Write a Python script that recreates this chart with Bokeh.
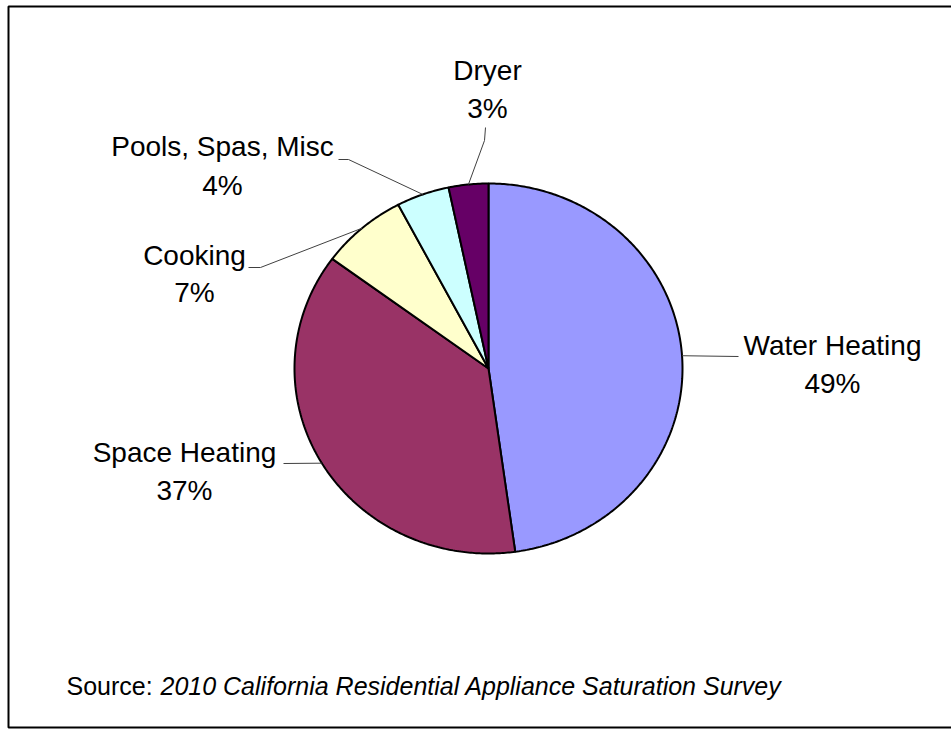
import numpy as np
from bokeh.plotting import figure
from bokeh.models import Range1d
from bokeh.core.properties import value
from bokeh.embed import file_html
from bokeh.resources import INLINE

# ---- data ----
categories = ["Water Heating", "Space Heating", "Cooking", "Pools, Spas, Misc", "Dryer"]
shares = [47.8, 37.3, 7.2, 4.4, 3.3]          # slice sizes as drawn
pct_labels = ["49%", "37%", "7%", "4%", "3%"]  # percentages as printed
colors = ["#9999FF", "#993366", "#FFFFCC", "#CCFFFF", "#660066"]
source_prefix = "Source:"
source_title = "2010 California Residential Appliance Saturation Survey"

# ---- layout (page pixels) ----
W, H = 951, 729
OX, OY = 0, 0                 # figure origin on page
CX, CY = 488, 368             # pie centre on page
RX, RY = 194, 185             # pie radii (slightly elliptical)

def dx(px):
    return px - CX

def dy(py):
    return CY - py

# label placement: (centre x, name baseline, pct baseline) in page pixels
label_pos = [(832, 345, 383), (184, 452, 490), (194, 255, 292), (222, 146, 185), (487, 70, 108)]
# leader line bends/ends near each label (page pixels)
leader_pts = [[(738, 356)], [(283, 463)], [(260, 267), (248, 267)],
              [(348, 159), (338, 159)], [(484, 140), (485, 127)]]
# outer frame (left, top, bottom) in page pixels
frame_l, frame_t, frame_b = 8, 6, 727

p = figure(width=W, height=H, output_backend="svg", toolbar_location=None,
           x_range=Range1d(dx(OX), dx(OX + W)), y_range=Range1d(dy(OY + H), dy(OY)),
           min_border=0)
p.axis.visible = False
p.grid.visible = False
p.outline_line_color = None
p.background_fill_color = "white"
p.border_fill_color = "white"

# frame
p.line([dx(W + 5), dx(frame_l), dx(frame_l), dx(W + 5)],
       [dy(frame_t), dy(frame_t), dy(frame_b), dy(frame_b)],
       line_color="black", line_width=2)

total = float(sum(shares))
fracs = np.cumsum([0.0] + shares) / total
xs, ys, mids = [], [], []
for i in range(len(shares)):
    a0, a1 = fracs[i] * 2 * np.pi, fracs[i + 1] * 2 * np.pi
    t = np.linspace(a0, a1, max(int((a1 - a0) / 0.01), 4))
    xs.append([0.0] + list(RX * np.sin(t)) + [0.0])
    ys.append([0.0] + list(RY * np.cos(t)) + [0.0])
    mids.append((a0 + a1) / 2)

p.patches(xs, ys, fill_color=colors, line_color="black", line_width=2)

# leader lines
lx, ly = [], []
for m, pts in zip(mids, leader_pts):
    lx.append([RX * np.sin(m)] + [dx(a) for a, b in pts])
    ly.append([RY * np.cos(m)] + [dy(b) for a, b in pts])
p.multi_line(lx, ly, line_color="#404040", line_width=1)

font = value("Liberation Sans")
p.text([dx(a) for a, b, c in label_pos], [dy(b) for a, b, c in label_pos], text=categories,
       text_font=font, text_font_size="28px", text_align="center",
       text_baseline="alphabetic", text_color="black")
p.text([dx(a) for a, b, c in label_pos], [dy(c) for a, b, c in label_pos], text=pct_labels,
       text_font=font, text_font_size="28px", text_align="center",
       text_baseline="alphabetic", text_color="black")

p.text([dx(66)], [dy(685)], text=[source_prefix], text_font=font, text_font_size="25px",
       text_align="left", text_baseline="alphabetic", text_color="black")
p.text([dx(160)], [dy(685)], text=[source_title], text_font=font, text_font_size="25px",
       text_font_style="italic", text_align="left", text_baseline="alphabetic",
       text_color="black")

open("out.html", "w").write(file_html(p, INLINE))
